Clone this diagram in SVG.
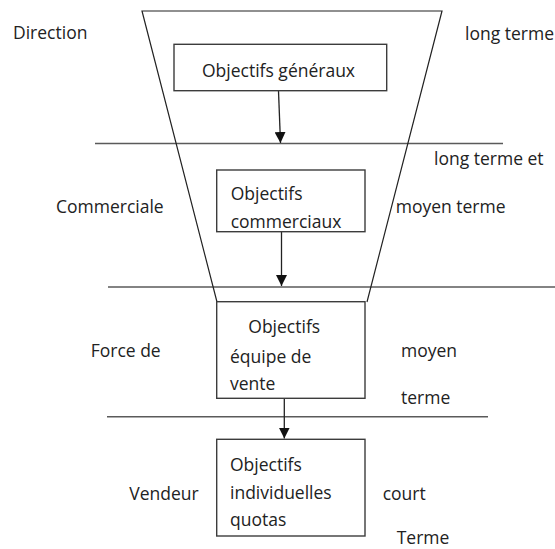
<svg xmlns="http://www.w3.org/2000/svg" width="555" height="549" viewBox="0 0 555 549">
<style>
text{font-family:"Open Sans","Noto Sans","Liberation Sans",sans-serif;font-size:17.5px;fill:#222;}
.box{fill:none;stroke:#3c3c3c;stroke-width:1.4;}
.sep{stroke:#5a5a5a;stroke-width:1.5;fill:none;}
.funnel{fill:none;stroke:#222;stroke-width:1.2;}
.arr{stroke:#222;stroke-width:1.3;fill:none;marker-end:url(#ah);}
</style>
<defs>
<marker id="ah" viewBox="0 0 10 10" refX="10" refY="5" markerWidth="11" markerHeight="11" markerUnits="userSpaceOnUse" orient="auto">
<path d="M0,0 L10,5 L0,10 Z" fill="#111"/>
</marker>
</defs>
<g id="connectors">
<line class="sep" x1="95" y1="143.5" x2="503" y2="143.5"/>
<line class="sep" x1="108" y1="287" x2="555" y2="287"/>
<line class="sep" x1="107" y1="416.7" x2="488" y2="416.7"/>
<polyline class="funnel" points="217,302 142,11 442,11 367,302"/>
<line class="arr" x1="278.5" y1="91" x2="280.5" y2="143"/>
<line class="arr" x1="281.5" y1="232" x2="281.5" y2="286"/>
<line class="arr" x1="284.3" y1="398" x2="284.3" y2="438.5"/>
</g>
<g id="label-direction"><text x="13" y="39">Direction</text></g>
<g id="label-long-terme"><text x="465" y="40">long terme</text></g>
<g id="node-objectifs-generaux">
<rect class="box" x="174" y="44.3" width="212.7" height="46.4"/>
<text x="202" y="77">Objectifs généraux</text>
</g>
<g id="label-long-terme-et"><text x="434" y="165">long terme et</text></g>
<g id="label-commerciale"><text x="56" y="213">Commerciale</text></g>
<g id="node-objectifs-commerciaux">
<rect class="box" x="216.7" y="170" width="148.3" height="61.7"/>
<text x="230.7" y="200">Objectifs</text>
<text x="230.7" y="228.3">commerciaux</text>
</g>
<g id="label-moyen-terme"><text x="395.7" y="213">moyen terme</text></g>
<g id="label-force-de"><text x="90.7" y="356.7">Force de</text></g>
<g id="node-objectifs-equipe">
<rect class="box" x="216.7" y="301.7" width="148.3" height="96.6"/>
<text x="248.3" y="332.7">Objectifs</text>
<text x="230" y="362.7">équipe de</text>
<text x="230" y="390">vente</text>
</g>
<g id="label-moyen"><text x="401" y="356.7">moyen</text></g>
<g id="label-terme"><text x="401" y="404.3">terme</text></g>
<g id="label-vendeur"><text x="129.3" y="500">Vendeur</text></g>
<g id="node-objectifs-individuelles">
<rect class="box" x="216.7" y="439.3" width="148.3" height="96.7"/>
<text x="230" y="470.7">Objectifs</text>
<text x="230" y="499">individuelles</text>
<text x="230" y="525.5">quotas</text>
</g>
<g id="label-court"><text x="382.7" y="500">court</text></g>
<g id="label-terme-cap"><text x="396.7" y="543.5">Terme</text></g>
</svg>
